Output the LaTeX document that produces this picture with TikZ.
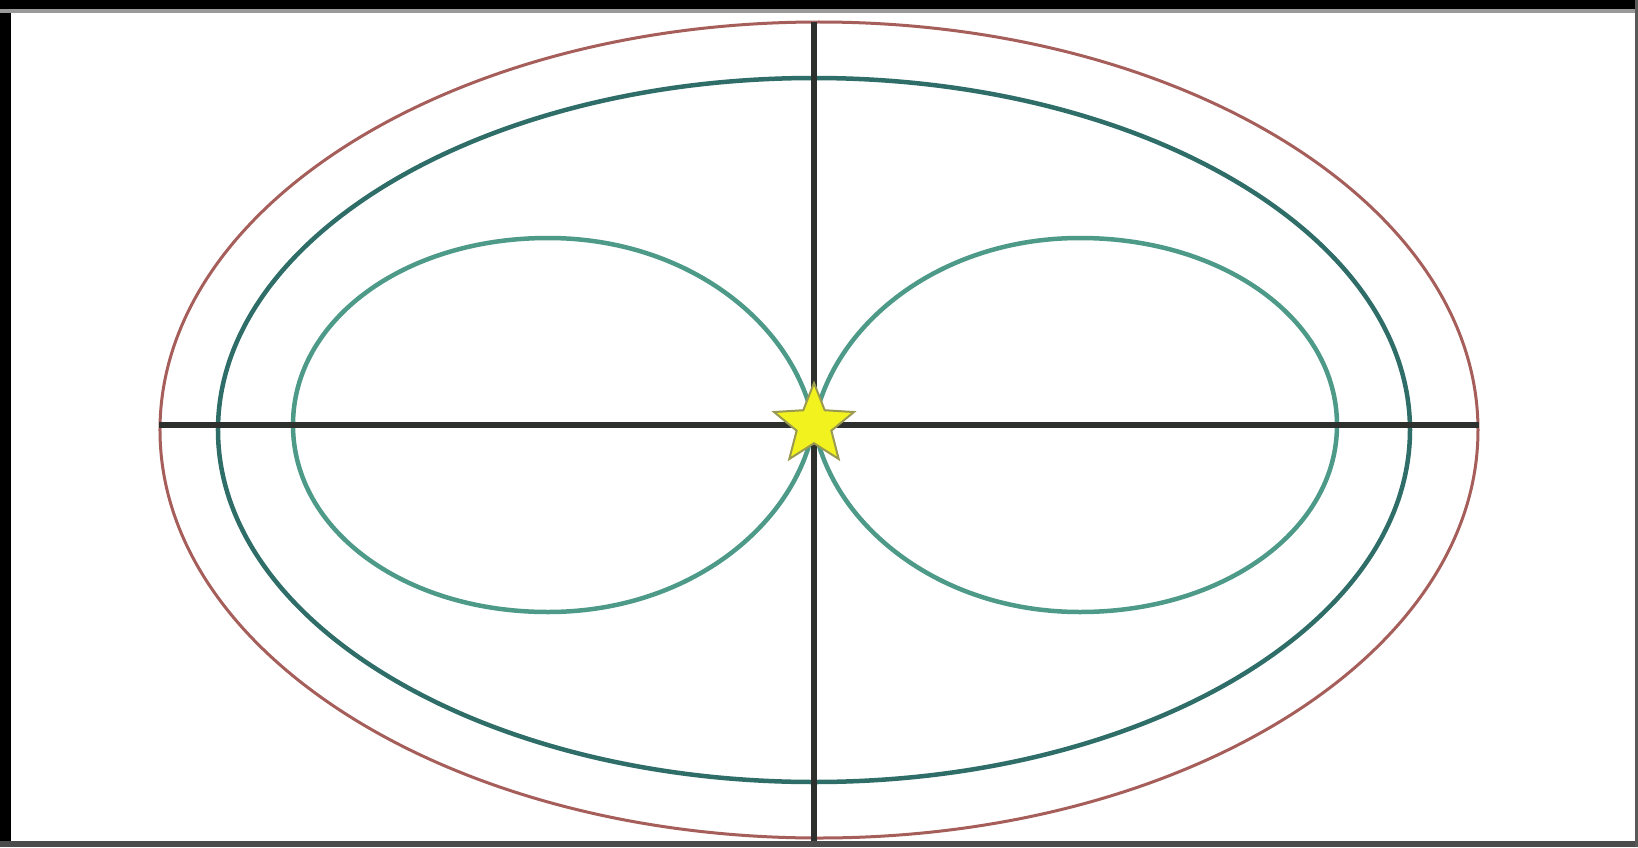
\documentclass[tikz,border=0pt]{standalone}
\usetikzlibrary{shapes.geometric}
\definecolor{redring}{HTML}{A65E5A}
\definecolor{tealring}{HTML}{2F6E68}
\definecolor{loopc}{HTML}{4E9A88}
\definecolor{axisc}{HTML}{2E302E}
\definecolor{stary}{HTML}{F2F21E}
\definecolor{starline}{HTML}{9A9A50}
\begin{document}
\begin{tikzpicture}[x=1pt,y=1pt,
  outerring/.style={draw=redring,line width=3},
  midring/.style={draw=tealring,line width=4.5},
  lobe/.style={draw=loopc,line width=4.5},
  axisline/.style={draw=axisc,line width=5.5},
  source/.style={star,star points=5,star point ratio=2.3,fill=stary,draw=starline,line width=2,minimum size=84,inner sep=0},
  frameband/.style={fill=#1}]
\useasboundingbox (-814,-422) rectangle (824,425);
\fill[white] (-814,-422) rectangle (824,425);
% rings
\draw[outerring] (5,-5) ellipse [x radius=659, y radius=408];
\draw[midring] (0,-5) ellipse [x radius=596, y radius=352];
% lobes
\draw[lobe] (0,0) .. controls (-18,100) and (-125,187) .. (-266,187)
  .. controls (-410,187) and (-521,105) .. (-521,0)
  .. controls (-521,-105) and (-410,-187) .. (-266,-187)
  .. controls (-125,-187) and (-18,-100) .. (0,0);
\draw[lobe] (0,0) .. controls (18,100) and (125,187) .. (266,187)
  .. controls (410,187) and (523,105) .. (523,0)
  .. controls (523,-105) and (410,-187) .. (266,-187)
  .. controls (125,-187) and (18,-100) .. (0,0);
% axes
\coordinate (hl) at (-655,0);
\coordinate (hr) at (665,0);
\coordinate (vt) at (0,403);
\coordinate (vb) at (0,-422);
\draw[axisline] (hl) -- (hr);
\draw[axisline] (vt) -- (vb);
% source
\node[source] (src) at (0,0) {};
% frame
\fill[frameband=black] (-814,-422) rectangle (-803,425);
\fill[frameband=black] (-814,416) rectangle (824,425);
\fill[frameband=black!40] (-814,412) rectangle (824,416);
\fill[frameband=black!70] (-814,-422) rectangle (824,-416);
\fill[frameband=black!65] (821,-422) rectangle (824,425);
\end{tikzpicture}
\end{document}
